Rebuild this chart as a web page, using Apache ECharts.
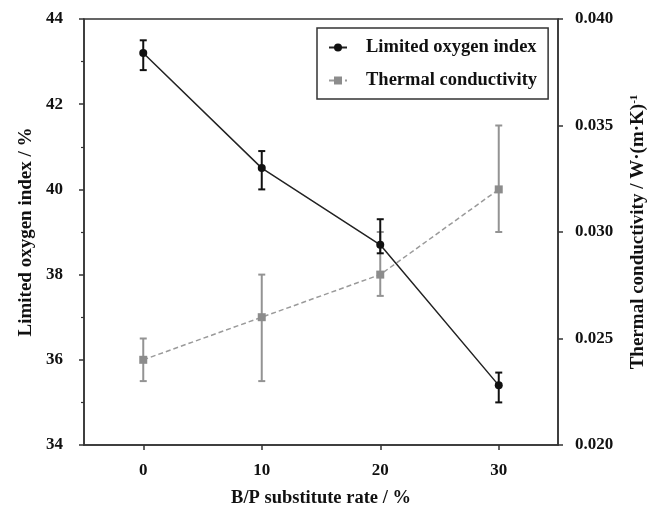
<!DOCTYPE html>
<html>
<head>
<meta charset="utf-8">
<script src="https://cdn.jsdelivr.net/npm/echarts@6/dist/echarts.min.js"></script>
<style>
html, body { margin: 0; padding: 0; background: #fff; }
#main { width: 647px; height: 506px; }
</style>
</head>
<body>
<div id="main"></div>
<script>
// substitute rate (x), values and error ranges
var rates = [0, 10, 20, 30];
var loi = [43.2, 40.5, 38.7, 35.4];
var loiLow = [42.8, 40.0, 38.5, 35.0];
var loiHigh = [43.5, 40.9, 39.3, 35.7];
var tc = [0.024, 0.026, 0.028, 0.032];
var tcLow = [0.023, 0.023, 0.027, 0.030];
var tcHigh = [0.025, 0.028, 0.030, 0.035];
var xTicks = [0, 10, 20, 30];

var FONT = '"Liberation Serif", "DejaVu Serif", serif';
var INK = '#111';

function pairs(ys){
    var out = [];
    for(var i = 0; i < rates.length; i++){
        out.push([rates[i], ys[i]]);
    }
    return out;
}

function bars(lo, hi){
    var out = [];
    for(var i = 0; i < rates.length; i++){
        out.push([rates[i], lo[i], hi[i]]);
    }
    return out;
}

function errorBar(color, width){
    return function(params, api){
        var x = api.value(0);
        var top = api.coord([x, api.value(2)]);
        var bot = api.coord([x, api.value(1)]);
        var half = 3.5;
        var style = { stroke: color, lineWidth: width };
        return {
            type: 'group',
            children: [
                { type: 'line', shape: { x1: top[0], y1: top[1], x2: bot[0], y2: bot[1] }, style: style },
                { type: 'line', shape: { x1: top[0] - half, y1: top[1], x2: top[0] + half, y2: top[1] }, style: style },
                { type: 'line', shape: { x1: bot[0] - half, y1: bot[1], x2: bot[0] + half, y2: bot[1] }, style: style }
            ]
        };
    };
}

var labelStyle = { color: INK, fontFamily: FONT, fontWeight: 'bold', fontSize: 17 };
var nameStyle = { color: INK, fontFamily: FONT, fontWeight: 'bold', fontSize: 19 };

var option = {
    backgroundColor: '#fff',
    animation: false,
    grid: {
        left: 84,
        right: 89,
        top: 19,
        bottom: 61,
        outerBoundsMode: 'none',
        containLabel: false,
        show: true,
        borderColor: '#333',
        borderWidth: 1.5
    },
    legend: {
        left: 317,
        top: 28,
        orient: 'vertical',
        backgroundColor: '#fff',
        borderColor: '#333',
        borderWidth: 1.5,
        padding: [10, 11, 9, 11],
        itemGap: 14,
        itemWidth: 18,
        itemHeight: 10,
        textStyle: { color: INK, fontFamily: FONT, fontWeight: 'bold', fontSize: 18.5, padding: [0, 0, 0, 14] },
        data: ['Limited oxygen index', 'Thermal conductivity']
    },
    xAxis: {
        type: 'value',
        min: -5,
        max: 35,
        interval: 5,
        name: 'B/P substitute rate / %',
        nameLocation: 'middle',
        nameGap: 44,
        nameTextStyle: Object.assign({}, nameStyle, { fontSize: 18.5 }),
        splitLine: { show: false },
        axisLine: { onZero: false, lineStyle: { color: '#333', width: 1.5 } },
        axisTick: { customValues: xTicks, length: 5, lineStyle: { color: '#333', width: 1.5 } },
        axisLabel: Object.assign({ customValues: xTicks, margin: 17 }, labelStyle)
    },
    yAxis: [{
        type: 'value',
        min: 34,
        max: 44,
        interval: 2,
        name: 'Limited oxygen index / %',
        nameLocation: 'middle',
        nameGap: 40,
        nameTextStyle: nameStyle,
        splitLine: { show: false },
        axisLine: { show: true, onZero: false, lineStyle: { color: '#333', width: 1.5 } },
        axisTick: { show: true, length: 5, lineStyle: { color: '#333', width: 1.5 } },
        minorTick: { show: true, splitNumber: 2, length: 3, lineStyle: { color: '#333', width: 1.2 } },
        axisLabel: Object.assign({ margin: 21 }, labelStyle)
    }, {
        type: 'value',
        min: 0.020,
        max: 0.040,
        interval: 0.005,
        position: 'right',
        name: 'Thermal conductivity / W·(m·K){sup|-1}',
        nameLocation: 'middle',
        nameGap: 71,
        nameRotate: 90,
        nameTextStyle: Object.assign({
            rich: {
                sup: { fontFamily: FONT, fontWeight: 'bold', fontSize: 11, color: INK, verticalAlign: 'top' }
            }
        }, nameStyle),
        splitLine: { show: false },
        axisLine: { show: true, onZero: false, lineStyle: { color: '#333', width: 1.5 } },
        axisTick: { show: true, length: 5, lineStyle: { color: '#333', width: 1.5 } },
        axisLabel: Object.assign({
            margin: 17,
            formatter: function(v){ return v.toFixed(3); }
        }, labelStyle)
    }],
    series: [{
        type: 'custom',
        name: 'tcErr',
        yAxisIndex: 1,
        renderItem: errorBar('#939393', 2),
        data: bars(tcLow, tcHigh),
        z: 2
    }, {
        type: 'line',
        name: 'Thermal conductivity',
        yAxisIndex: 1,
        data: pairs(tc),
        symbol: 'rect',
        symbolSize: 8,
        itemStyle: { color: '#8c8c8c' },
        lineStyle: { color: '#9a9a9a', width: 1.5, type: [5, 3] },
        z: 3
    }, {
        type: 'custom',
        name: 'loiErr',
        yAxisIndex: 0,
        renderItem: errorBar('#111', 2),
        data: bars(loiLow, loiHigh),
        z: 4
    }, {
        type: 'line',
        name: 'Limited oxygen index',
        yAxisIndex: 0,
        data: pairs(loi),
        symbol: 'circle',
        symbolSize: 8,
        itemStyle: { color: '#111' },
        lineStyle: { color: '#222', width: 1.5 },
        z: 5
    }]
};

var myChart = echarts.init(document.getElementById('main'));
myChart.setOption(option);
</script>
</body>
</html>
